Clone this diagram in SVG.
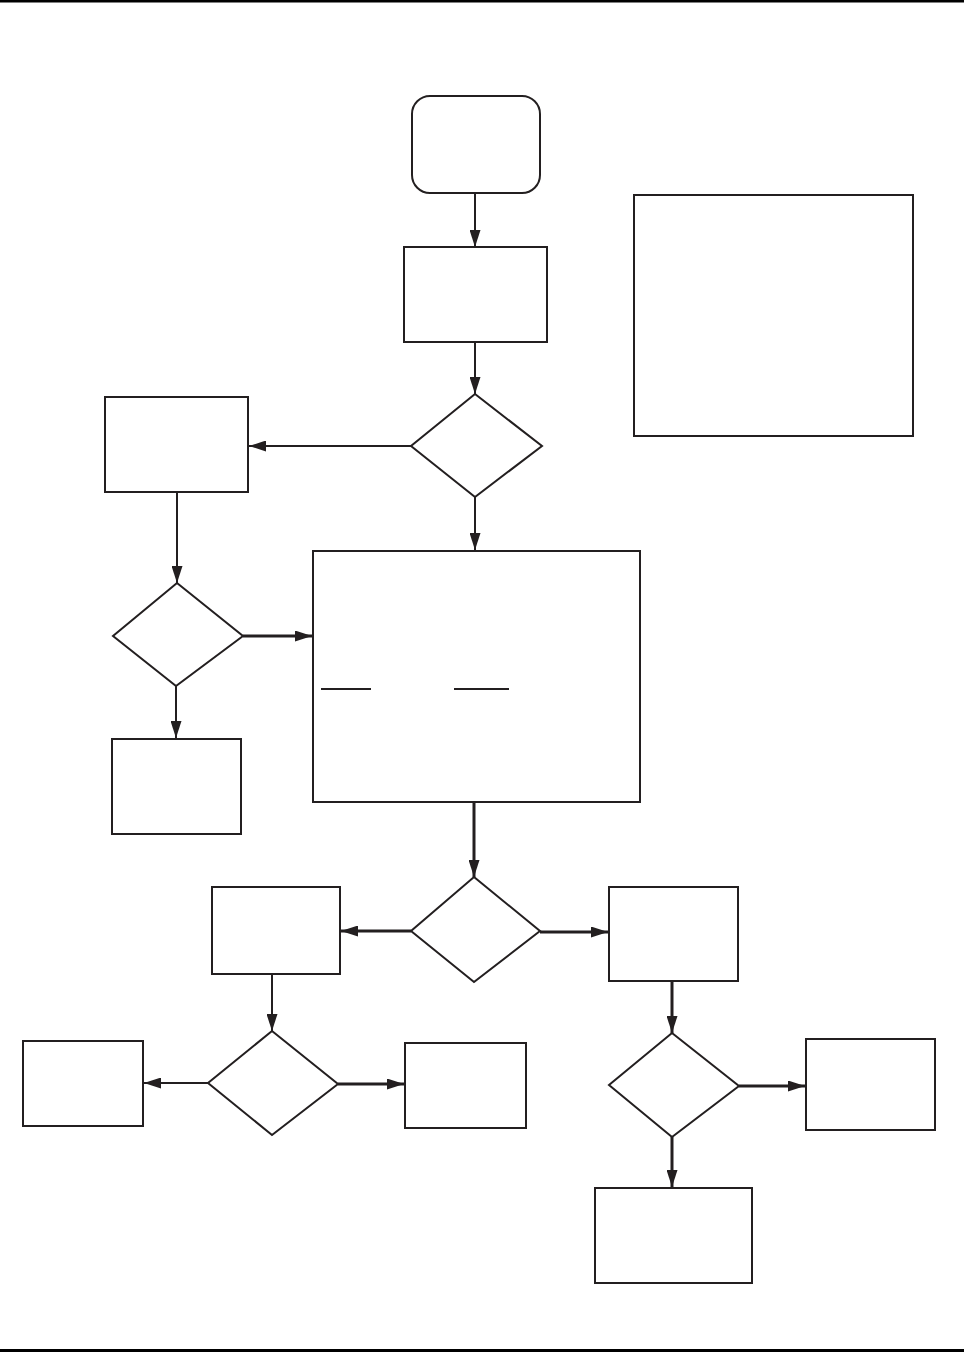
<svg xmlns="http://www.w3.org/2000/svg" width="964" height="1352" viewBox="0 0 964 1352">
<style>
.n{fill:#fff;stroke:#231f20;stroke-width:2}
.c{fill:none;stroke:#231f20;stroke-width:2}
.t{stroke-width:3}
.rule{fill:#000}
</style>
<defs>
<marker id="ah" markerUnits="userSpaceOnUse" markerWidth="17" markerHeight="11" refX="17" refY="5.5" orient="auto">
<path d="M0,0 L17,5.5 L0,11 z" fill="#231f20"/>
</marker>
</defs>
<rect width="964" height="1352" fill="#fff"/>
<rect class="rule" x="0" y="0" width="964" height="2.5"/>
<rect class="rule" x="0" y="1349" width="964" height="3"/>
<g id="start"><rect class="n" x="412" y="96" width="128" height="97" rx="18"/></g>
<g id="box1"><rect class="n" x="404" y="247" width="143" height="95"/></g>
<g id="legend"><rect class="n" x="634" y="195" width="279" height="241"/></g>
<g id="dec1"><polygon class="n" points="475,394 542,446 475,497 411,446"/></g>
<g id="box2"><rect class="n" x="105" y="397" width="143" height="95"/></g>
<g id="dec2"><polygon class="n" points="177,583 243,636 176,686 113,636"/></g>
<g id="bigbox"><rect class="n" x="313" y="551" width="327" height="251"/>
<line class="c" x1="321" y1="689" x2="371" y2="689"/>
<line class="c" x1="454" y1="689" x2="509" y2="689"/></g>
<g id="box3"><rect class="n" x="112" y="739" width="129" height="95"/></g>
<g id="dec3"><polygon class="n" points="474,877 540,931 474,982 411,931"/></g>
<g id="box4"><rect class="n" x="212" y="887" width="128" height="87"/></g>
<g id="box5"><rect class="n" x="609" y="887" width="129" height="94"/></g>
<g id="dec4"><polygon class="n" points="272,1031 338,1084 272,1135 208,1083"/></g>
<g id="box6"><rect class="n" x="23" y="1041" width="120" height="85"/></g>
<g id="box7"><rect class="n" x="405" y="1043" width="121" height="85"/></g>
<g id="dec5"><polygon class="n" points="672,1033 739,1086 672,1137 609,1085"/></g>
<g id="box8"><rect class="n" x="806" y="1039" width="129" height="91"/></g>
<g id="box9"><rect class="n" x="595" y="1188" width="157" height="95"/></g>
<g id="connectors">
<line class="c" x1="475" y1="193" x2="475" y2="247" marker-end="url(#ah)"/>
<line class="c" x1="475" y1="342" x2="475" y2="394" marker-end="url(#ah)"/>
<line class="c" x1="411" y1="446" x2="249" y2="446" marker-end="url(#ah)"/>
<line class="c" x1="475" y1="497" x2="475" y2="550" marker-end="url(#ah)"/>
<line class="c" x1="177" y1="492" x2="177" y2="583" marker-end="url(#ah)"/>
<line class="c t" x1="243" y1="636" x2="312" y2="636" marker-end="url(#ah)"/>
<line class="c" x1="176" y1="686" x2="176" y2="738" marker-end="url(#ah)"/>
<line class="c t" x1="474" y1="802" x2="474" y2="877" marker-end="url(#ah)"/>
<line class="c t" x1="411" y1="931" x2="341" y2="931" marker-end="url(#ah)"/>
<line class="c t" x1="540" y1="932" x2="608" y2="932" marker-end="url(#ah)"/>
<line class="c" x1="272" y1="974" x2="272" y2="1031" marker-end="url(#ah)"/>
<line class="c" x1="208" y1="1083" x2="144" y2="1083" marker-end="url(#ah)"/>
<line class="c t" x1="338" y1="1084" x2="404" y2="1084" marker-end="url(#ah)"/>
<line class="c t" x1="672" y1="981" x2="672" y2="1033" marker-end="url(#ah)"/>
<line class="c t" x1="739" y1="1086" x2="805" y2="1086" marker-end="url(#ah)"/>
<line class="c t" x1="672" y1="1137" x2="672" y2="1187" marker-end="url(#ah)"/>
</g>
</svg>
